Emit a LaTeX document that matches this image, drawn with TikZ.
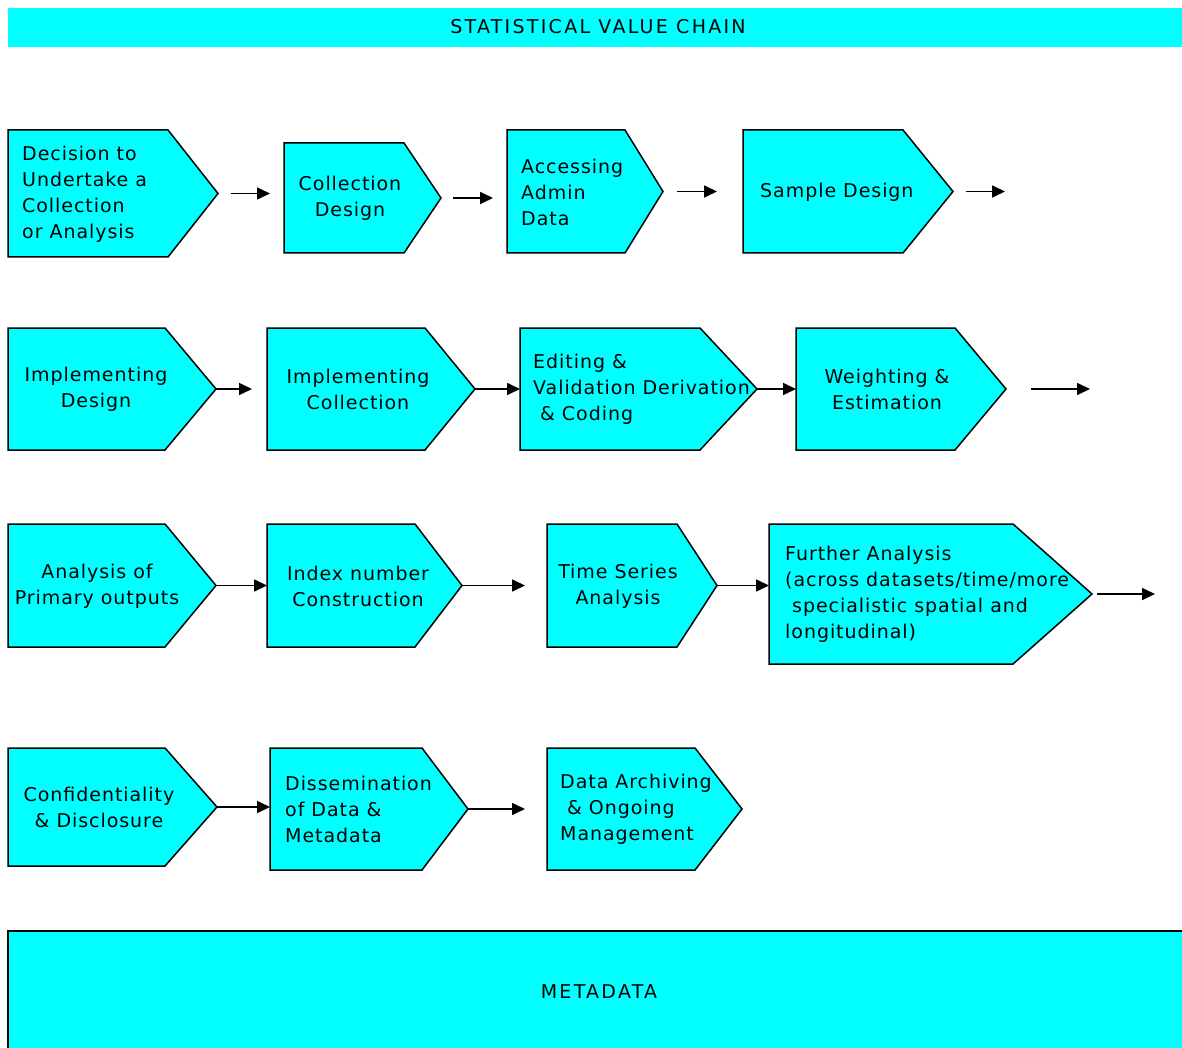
\documentclass[tikz,border=0pt]{standalone}
\usepackage{fontspec}
\setmainfont{DejaVu Sans}
\newfontfamily\stagefont[LetterSpace=5]{DejaVu Sans}
\newfontfamily\headfont[LetterSpace=12]{DejaVu Sans}
\usetikzlibrary{arrows.meta}
\definecolor{chaincyan}{RGB}{0,255,255}

% name, left x, top y, body right x, tip x, bottom y
\newcommand{\chainstage}[6]{%
  \draw[stagebox] (#2,#3) -- (#4,#3) -- (#5,{(#3+#6)/2}) -- (#4,#6) -- (#2,#6) -- cycle;
  \coordinate (#1-w) at (#2,{(#3+#6)/2});
  \coordinate (#1-e) at (#5,{(#3+#6)/2});}

\begin{document}
\begin{tikzpicture}[
  x=1pt, y=-1pt,
  stagebox/.style={fill=chaincyan, draw=black, line width=1.5pt, line join=miter},
  lefttext/.style={font=\stagefont\fontsize{19}{26}\selectfont, align=left, anchor=west, inner sep=0pt},
  midtext/.style={font=\stagefont\fontsize{19}{26}\selectfont, align=center, inner sep=0pt},
  headtext/.style={font=\headfont\fontsize{19}{24}\selectfont, inner sep=0pt},
  flow/.style={-{Triangle[length=13pt,width=12pt]}, line width=1.6pt}
]
\useasboundingbox (0,0) rectangle (1182,1048);
\clip (0,0) rectangle (1182,1048);

% --- Title bar ---
\fill[chaincyan] (8,8) rectangle (1182,47);
\node[headtext] (title) at (598,27) {STATISTICAL VALUE CHAIN};

% --- Row 1 ---
\chainstage{dec}{8}{130}{168}{218}{257}
\node[lefttext] (dec-t) at (22,194) {Decision to\\Undertake a\\Collection\\or Analysis};
\chainstage{cold}{284}{143}{404}{441}{253}
\node[midtext] (cold-t) at (350,198) {Collection\\Design};
\chainstage{adm}{507}{130}{625}{663}{253}
\node[lefttext] (adm-t) at (521,192) {Accessing\\Admin\\Data};
\chainstage{samp}{743}{130}{903}{953}{253}
\node[lefttext] (samp-t) at (760,192) {Sample Design};
\coordinate (r1end) at (1005,196);

% --- Row 2 ---
\chainstage{impd}{8}{328}{165}{216}{450}
\node[midtext] (impd-t) at (96,389) {Implementing\\Design};
\chainstage{impc}{267}{328}{425}{475}{450}
\node[midtext] (impc-t) at (358,389) {Implementing\\Collection};
\chainstage{edit}{520}{328}{700}{757}{450}
\node[lefttext] (edit-t) at (533,389) {Editing \&\\Validation Derivation\\\ \& Coding};
\chainstage{wgt}{796}{328}{955}{1006}{450}
\node[midtext] (wgt-t) at (887,389) {Weighting \&\\Estimation};
\coordinate (r2end) at (1090,389);

% --- Row 3 ---
\chainstage{prim}{8}{524}{165}{216}{647}
\node[midtext] (prim-t) at (97,586) {Analysis of\\Primary outputs};
\chainstage{idx}{267}{524}{415}{462}{647}
\node[midtext] (idx-t) at (358,586) {Index number\\Construction};
\chainstage{tser}{547}{524}{677}{717}{647}
\node[midtext] (tser-t) at (618,586) {Time Series\\Analysis};
\chainstage{furt}{769}{524}{1013}{1092}{664}
\node[lefttext] (furt-t) at (785,594) {Further Analysis\\(across datasets/time/more\\\ specialistic spatial and\\longitudinal)};
\coordinate (r3end) at (1155,594);

% --- Row 4 ---
\chainstage{conf}{8}{748}{165}{217}{866}
\node[midtext] (conf-t) at (99,807) {Confidentiality\\\& Disclosure};
\chainstage{diss}{270}{748}{422}{468}{870}
\node[lefttext] (diss-t) at (285,809) {Dissemination\\of Data \&\\Metadata};
\chainstage{arch}{547}{748}{695}{742}{870}
\node[lefttext] (arch-t) at (560,809) {Data Archiving\\\ \& Ongoing\\Management};

% --- Metadata bar ---
\draw[stagebox] (8,931) rectangle (1192,1060);
\node[headtext] (meta) at (599,992) {METADATA};

% --- Arrows: row 1 ---
\draw[flow] ([xshift=13pt]dec-e) -- ([xshift=-14pt]cold-w |- dec-e);
\draw[flow] ([xshift=12pt]cold-e) -- ([xshift=-14pt]adm-w |- cold-e);
\draw[flow] ([xshift=14pt]adm-e) -- ([xshift=-26pt]samp-w |- adm-e);
\draw[flow] ([xshift=13pt]samp-e) -- (r1end |- samp-e);

% --- Arrows: row 2 ---
\draw[flow] (impd-e) -- ([xshift=-15pt]impc-w |- impd-e);
\draw[flow] (impc-e) -- (edit-w |- impc-e);
\draw[flow] (edit-e) -- (wgt-w |- edit-e);
\draw[flow] ([xshift=25pt]wgt-e) -- (r2end |- wgt-e);

% --- Arrows: row 3 ---
\draw[flow] (prim-e) -- (idx-w |- prim-e);
\draw[flow] (idx-e) -- ([xshift=-22pt]tser-w |- idx-e);
\draw[flow] (tser-e) -- (furt-w |- tser-e);
\draw[flow] ([xshift=5pt]furt-e) -- (r3end |- furt-e);

% --- Arrows: row 4 ---
\draw[flow] (conf-e) -- (diss-w |- conf-e);
\draw[flow] (diss-e) -- ([xshift=-22pt]arch-w |- diss-e);

\end{tikzpicture}
\end{document}
